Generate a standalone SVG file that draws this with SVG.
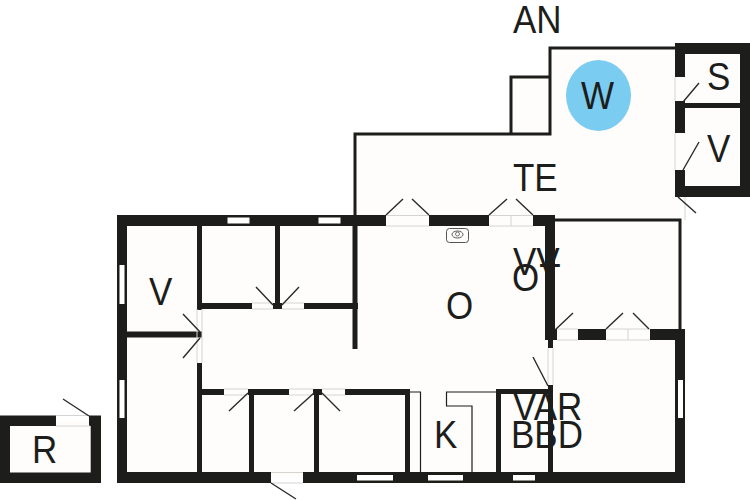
<svg xmlns="http://www.w3.org/2000/svg" width="750" height="500" viewBox="0 0 750 500">
<style>
.wall{fill:#1d1d1b}
.thin{fill:none;stroke:#1d1d1b;stroke-width:3}
.hair{fill:none;stroke:#1d1d1b;stroke-width:1.2}
.leaf{fill:none;stroke:#2a2a28;stroke-width:1.4}
.sill{fill:none;stroke:#d4d4d0;stroke-width:1}
.win{fill:#fff}
.floor{fill:#fefdfb}
text{font-family:"Liberation Sans",Arial,sans-serif;font-size:35px;fill:#1d1d1b}
</style>
<rect width="750" height="500" fill="#fff"/>
<g id="floors">
<path class="floor" d="M550 48H680V220H680V340H680V478H122V221H355V134H511V77H550Z"/>
<rect class="floor" x="5" y="421" width="91" height="57"/>
<rect class="floor" x="680" y="48" width="65" height="144"/>
</g>
<g id="spot"><ellipse cx="598.5" cy="95.5" rx="32.5" ry="35.5" fill="#7accf0"/></g>
<g id="thin-walls">
<path class="thin" d="M676 48H550V134H355V216M511 134V77H550M555 220H680V330"/>
<path class="hair" d="M410 392H420.500V472M496 392H446.500V406H472V472"/>
</g>
<g id="walls">
<path class="wall" d="M675 43H750V197H675V170H685V186H740V108H685V133H675V101H685V103H740V54H685V77H675Z"/>
<path class="wall" d="M117 215H386V226H127V472H271V483H117Z"/>
<rect class="wall" x="429" y="215" width="60" height="11"/>
<rect class="wall" x="533" y="215" width="22" height="11"/>
<rect class="wall" x="545" y="226" width="10" height="114"/>
<rect class="wall" x="548" y="340" width="5" height="8"/>
<rect class="wall" x="548" y="385" width="5" height="88"/>
<rect class="wall" x="555" y="329" width="2" height="11"/>
<rect class="wall" x="578" y="329" width="28" height="11"/>
<path class="wall" d="M650 329H685V483H303V472H675V340H650Z"/>
<rect class="wall" x="197" y="226" width="5" height="84"/>
<rect class="wall" x="275" y="226" width="5" height="80"/>
<rect class="wall" x="352.500" y="226" width="5" height="123"/>
<rect class="wall" x="197" y="303" width="55" height="6"/>
<rect class="wall" x="273" y="303" width="9" height="6"/>
<rect class="wall" x="304" y="303" width="54" height="6"/>
<rect class="wall" x="127" y="331.500" width="75" height="6"/>
<rect class="wall" x="197" y="363" width="5" height="110"/>
<rect class="wall" x="202" y="389" width="22" height="6"/>
<rect class="wall" x="248" y="389" width="41" height="6"/>
<rect class="wall" x="313" y="389" width="9" height="6"/>
<rect class="wall" x="345" y="389" width="65" height="6"/>
<rect class="wall" x="249" y="395" width="5" height="78"/>
<rect class="wall" x="314" y="395" width="5" height="78"/>
<rect class="wall" x="405" y="395" width="5" height="78"/>
<rect class="wall" x="496" y="389" width="52" height="5"/>
<rect class="wall" x="496" y="394" width="5" height="79"/>
<path class="wall" d="M0 415.500H56V426H10V472.500H90.700V426H89V415.500H101V483H0Z"/>
</g>
<g id="windows">
<rect class="win" x="227.500" y="217.500" width="22" height="6"/>
<rect class="win" x="318.500" y="217.500" width="22" height="6"/>
<rect class="win" x="119.500" y="265" width="5" height="39"/>
<rect class="win" x="119.500" y="380" width="5" height="38"/>
<rect class="win" x="678" y="380" width="5" height="38"/>
<rect class="win" x="357" y="475" width="36" height="5.500"/>
<rect class="win" x="428" y="475" width="35" height="5.500"/>
<rect class="win" x="513" y="475" width="22" height="5.500"/>
</g>
<g id="doors">
<path class="sill" d="M386 215.500H429M386 226H429M489 215.500H533M489 226H533M511 215V226M252 303H273M252 309H273M282 303H304M282 309H304M197 309V363M202 309V363M224 389H248M224 395H248M289 389H313M289 395H313M322 389H345M322 395H345M271 472.500H303M271 483H303M56 415.500H89M56 426H90M557 329H578M557 340H578M606 329H650M606 340H650M628 329V340M548 348V385M553 348V385M675 77V101M675 133V170M685 197V220"/>
<path class="leaf" d="M386 215L403 199M412 199L429 215M489 215L507 199M516 199L533 215M683 102L699 83M683 170L699 142M678 197L696 213M256 287L273 305M299 287L282 305M183 314L200 332M183 358L200 338M229 411L248 393M294 411L314 393M340 411L322 393M63 399L89 416M271 483L296 499M555 330L573 313M606 329L623 313M633 313L649 329M533 357L548 386"/>
</g>
<g id="stove">
<rect x="446.500" y="228.500" width="22" height="14" rx="3" fill="none" stroke="#55554f" stroke-width="1"/>
<ellipse cx="457.500" cy="234.500" rx="5.500" ry="3.500" fill="none" stroke="#55554f" stroke-width="1"/>
<circle cx="457.500" cy="234" r="2" fill="none" stroke="#55554f" stroke-width=".8"/>
</g>
<g id="labels">
<text transform="translate(513,33) scale(1,1.12)">AN</text>
<text transform="translate(581,109) scale(1,1.12)">W</text>
<text transform="translate(707,90) scale(1,1.12)">S</text>
<text transform="translate(707,162) scale(1,1.12)">V</text>
<text transform="translate(513,191) scale(1,1.12)">TE</text>
<text transform="translate(149,305) scale(1,1.12)">V</text>
<text transform="translate(513,275) scale(1,1.12)">VV</text>
<text transform="translate(512,291) scale(1,1.12)">OT</text>
<text transform="translate(446,319) scale(1,1.12)">O</text>
<text transform="translate(434,448) scale(1,1.12)">K</text>
<text transform="translate(513,420) scale(1,1.12)">VAR</text>
<text transform="translate(511,448) scale(1,1.12)">BBD</text>
<text transform="translate(32,463) scale(1,1.12)">R</text>
</g>
</svg>
